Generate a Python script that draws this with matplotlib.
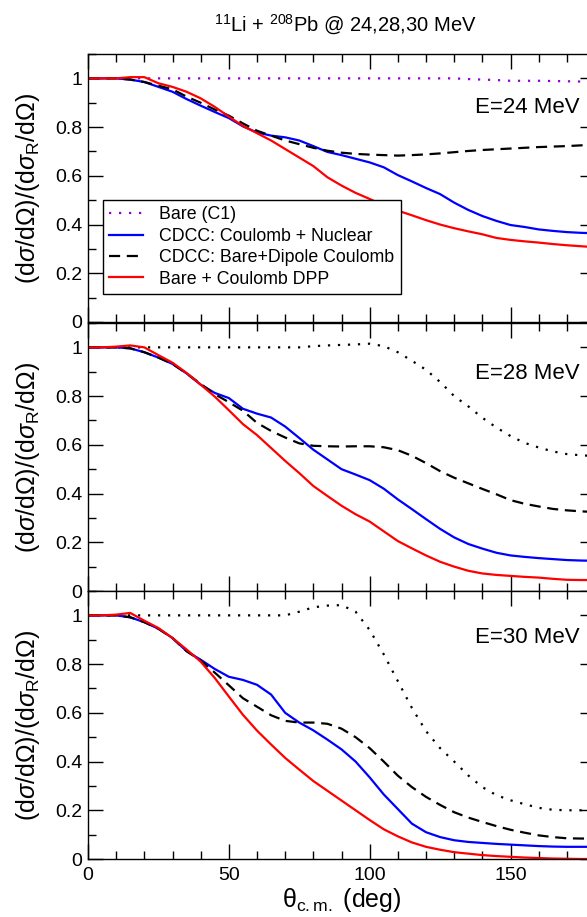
import numpy as np
import matplotlib
matplotlib.use('agg')
import matplotlib.pyplot as plt
import matplotlib.ticker as mticker

plt.rcParams['font.family'] = ['Liberation Sans', 'DejaVu Sans']
plt.rcParams['mathtext.fontset'] = 'custom'
plt.rcParams['mathtext.rm'] = 'Liberation Sans'
plt.rcParams['mathtext.it'] = 'Liberation Sans:italic'

# scattering angle grid (deg)
theta = np.arange(0, 181, 5)

# E = 24 MeV
bare24 = [1.0, 1.0, 1.0, 1.0, 1.0, 1.0, 1.0, 1.0, 1.0, 1.0, 1.0, 1.0, 1.0, 1.0, 1.0, 1.0, 1.0, 1.0, 1.0,
          1.0, 1.0, 1.0, 1.0, 1.0, 1.0, 1.0, 1.0, 0.997, 0.995, 0.993, 0.99, 0.99, 0.99, 0.989, 0.988, 0.987, 0.986]
blue24 = [1.0, 1.0, 1.0, 0.995, 0.985, 0.965, 0.945, 0.915, 0.888, 0.862, 0.837, 0.803, 0.778, 0.765, 0.758,
          0.745, 0.722, 0.698, 0.685, 0.67, 0.655, 0.635, 0.603, 0.577, 0.55, 0.525, 0.49, 0.46, 0.435, 0.415,
          0.398, 0.39, 0.38, 0.374, 0.369, 0.366, 0.364]
dash24 = [1.0, 1.0, 1.0, 0.995, 0.985, 0.97, 0.955, 0.925, 0.9, 0.872, 0.847, 0.815, 0.785, 0.765, 0.745,
          0.73, 0.715, 0.703, 0.695, 0.69, 0.687, 0.685, 0.683, 0.685, 0.688, 0.692, 0.697, 0.702, 0.706, 0.709,
          0.712, 0.715, 0.718, 0.72, 0.722, 0.725, 0.727]
red24 = [1.0, 1.0, 1.0, 1.005, 1.005, 0.98, 0.965, 0.945, 0.918, 0.883, 0.843, 0.805, 0.775, 0.745, 0.71,
         0.675, 0.64, 0.594, 0.56, 0.53, 0.505, 0.478, 0.457, 0.438, 0.418, 0.4, 0.385, 0.372, 0.36, 0.345,
         0.337, 0.331, 0.326, 0.32, 0.315, 0.311, 0.307]

# E = 28 MeV
bare28 = [1.0, 1.0, 1.0, 1.0, 1.0, 1.0, 1.0, 1.0, 1.0, 1.0, 1.0, 1.0, 1.0, 1.0, 1.0, 1.0, 1.005, 1.008, 1.01,
          1.012, 1.015, 1.005, 0.98, 0.945, 0.908, 0.858, 0.8, 0.758, 0.711, 0.671, 0.636, 0.608, 0.589, 0.573,
          0.562, 0.557, 0.554]
blue28 = [1.0, 1.0, 1.0, 0.996, 0.98, 0.958, 0.932, 0.893, 0.847, 0.813, 0.792, 0.748, 0.728, 0.712, 0.675,
          0.628, 0.58, 0.54, 0.5, 0.478, 0.455, 0.42, 0.376, 0.336, 0.295, 0.255, 0.22, 0.193, 0.174, 0.157,
          0.146, 0.14, 0.135, 0.131, 0.127, 0.125, 0.124]
dash28 = [1.0, 1.0, 1.0, 0.996, 0.98, 0.958, 0.932, 0.893, 0.85, 0.808, 0.775, 0.74, 0.69, 0.657, 0.63,
          0.606, 0.596, 0.594, 0.593, 0.594, 0.594, 0.59, 0.578, 0.555, 0.525, 0.492, 0.465, 0.442, 0.419, 0.397,
          0.373, 0.358, 0.347, 0.337, 0.331, 0.327, 0.324]
red28 = [1.0, 1.0, 1.003, 1.008, 1.0, 0.968, 0.937, 0.895, 0.847, 0.798, 0.742, 0.685, 0.64, 0.587, 0.534,
         0.484, 0.431, 0.39, 0.35, 0.315, 0.285, 0.245, 0.205, 0.175, 0.146, 0.12, 0.1, 0.083, 0.072, 0.066,
         0.062, 0.058, 0.055, 0.05, 0.046, 0.045, 0.045]

# E = 30 MeV
bare30 = [1.0, 1.0, 1.0, 1.0, 1.0, 1.0, 1.0, 1.0, 1.0, 1.0, 1.0, 1.0, 1.0, 1.0, 1.0, 1.015, 1.033, 1.04, 1.042,
          1.015, 0.94, 0.84, 0.73, 0.62, 0.525, 0.455, 0.4, 0.343, 0.295, 0.262, 0.241, 0.225, 0.21, 0.202,
          0.2, 0.2, 0.2]
blue30 = [1.0, 1.0, 1.0, 0.992, 0.972, 0.945, 0.907, 0.853, 0.818, 0.78, 0.748, 0.735, 0.715, 0.675, 0.6,
          0.56, 0.528, 0.49, 0.45, 0.4, 0.335, 0.265, 0.205, 0.145, 0.11, 0.09, 0.077, 0.07, 0.066, 0.062,
          0.059, 0.056, 0.053, 0.051, 0.05, 0.05, 0.05]
dash30 = [1.0, 1.0, 1.0, 0.992, 0.972, 0.945, 0.907, 0.853, 0.815, 0.765, 0.713, 0.66, 0.625, 0.59, 0.567,
          0.56, 0.56, 0.555, 0.535, 0.5, 0.455, 0.4, 0.342, 0.295, 0.255, 0.222, 0.192, 0.17, 0.152, 0.135,
          0.12, 0.108, 0.097, 0.09, 0.085, 0.084, 0.084]
red30 = [1.0, 1.0, 1.003, 1.01, 0.978, 0.948, 0.907, 0.86, 0.81, 0.743, 0.667, 0.592, 0.527, 0.47, 0.415,
         0.367, 0.32, 0.28, 0.24, 0.2, 0.16, 0.122, 0.093, 0.068, 0.05, 0.038, 0.028, 0.022, 0.016, 0.012,
         0.009, 0.006, 0.004, 0.002, 0.001, 0.0, 0.0]

panels = [('E=24 MeV', bare24, blue24, dash24, red24, '#9400d3', 0.80),
          ('E=28 MeV', bare28, blue28, dash28, red28, 'black', 0.81),
          ('E=30 MeV', bare30, blue30, dash30, red30, 'black', 0.825)]

legend_labels = ['Bare (C1)', 'CDCC: Coulomb + Nuclear', 'CDCC: Bare+Dipole Coulomb', 'Bare + Coulomb DPP']
ytick_vals = [0, 0.2, 0.4, 0.6, 0.8, 1.0]
ytick_labels = ['0', '0.2', '0.4', '0.6', '0.8', '1']
xtick_vals = [0, 50, 100, 150]

fig = plt.figure(figsize=(5.87, 9.17), dpi=100)
left = 88 / 587.
width = (595 - 88) / 587.
height = 268 / 917.
bottoms = [(917 - 322) / 917., (917 - 591) / 917., (917 - 859) / 917.]

lw = 1.6
for i, (elab, bare, blue, dash, red, barecol, ty) in enumerate(panels):
    ax = fig.add_axes([left, bottoms[i], width, height])
    l1, = ax.plot(theta, bare, color=barecol, lw=lw, linestyle=(0, (1, 3.5)))
    l2, = ax.plot(theta, blue, color='#0000ff', lw=lw)
    l3, = ax.plot(theta, dash, color='black', lw=lw, linestyle=(0, (5, 3)))
    l4, = ax.plot(theta, red, color='#ff0000', lw=lw)
    ax.set_xlim(0, 180)
    ax.set_ylim(0, 1.1)
    ax.xaxis.set_major_locator(mticker.FixedLocator(xtick_vals))
    ax.xaxis.set_minor_locator(mticker.MultipleLocator(10))
    ax.yaxis.set_major_locator(mticker.FixedLocator(ytick_vals))
    ax.yaxis.set_major_formatter(mticker.FixedFormatter(ytick_labels))
    ax.yaxis.set_minor_locator(mticker.MultipleLocator(0.1))
    ax.tick_params(which='both', direction='in', top=True, right=True, width=1.0)
    ax.tick_params(which='major', length=11, labelsize=14)
    ax.tick_params(which='minor', length=5.5)
    ax.tick_params(axis='y', pad=4)
    ax.tick_params(axis='x', pad=6)
    for sp in ax.spines.values():
        sp.set_linewidth(1.0)
    if i < 2:
        ax.tick_params(axis='x', labelbottom=False)
    ax.text(0.97, ty, elab, transform=ax.transAxes, ha='right', va='center', fontsize=16)
    ax.text(-0.118, 0.5, r'(d$\sigma$/d$\Omega$)/(d$\sigma_{\rm R}$/d$\Omega$)', transform=ax.transAxes,
            rotation=90, ha='center', va='center', fontsize=18)
    if i == 0:
        leg = ax.legend([l1, l2, l3, l4], legend_labels, loc='lower left',
                        bbox_to_anchor=(0.03, 0.105), fontsize=12.8, frameon=True, fancybox=False,
                        edgecolor='black', framealpha=1, borderpad=0.35, labelspacing=0.25,
                        handlelength=1.9, handletextpad=0.9, borderaxespad=0)
        leg.get_frame().set_linewidth(1.0)
    if i == 2:
        ax.set_xlabel(u'\u03b8$_{\\rm c.m.}$ (deg)', fontsize=18, labelpad=1)

fig.text(0.588, 0.973, r'$^{11}$Li + $^{208}$Pb @ 24,28,30 MeV', ha='center', va='center', fontsize=14.5)

plt.savefig('out.png', dpi=100)
plt.close()
